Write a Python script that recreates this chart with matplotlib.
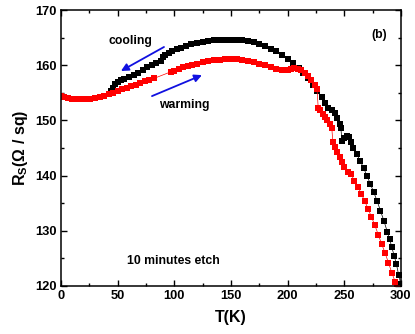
import matplotlib
matplotlib.use("Agg")
import matplotlib.pyplot as plt
from matplotlib.ticker import MultipleLocator

plt.rcParams['font.family'] = ['Liberation Sans', 'DejaVu Sans']
plt.rcParams['font.weight'] = 'bold'
plt.rcParams['mathtext.fontset'] = 'custom'
plt.rcParams['mathtext.bf'] = 'Liberation Sans:bold'
plt.rcParams['mathtext.rm'] = 'Liberation Sans:bold'
plt.rcParams['mathtext.default'] = 'bf'

# cooling (black)
T_cool = [44, 46, 48, 50, 53, 56, 60, 64, 68, 72, 76, 80, 84, 88, 90, 92, 95, 98,
          102, 106, 110, 115, 120, 125, 130, 135, 140, 145, 150, 155, 160, 165, 170,
          175, 180, 185, 190, 195, 200, 205, 210, 214, 218, 222, 226, 230, 233, 236,
          239, 242, 244, 246, 247, 248, 250, 252, 254, 256, 258, 261, 264, 267, 270,
          273, 276, 279, 282, 285, 288, 290, 292, 294, 296, 298, 300]
R_cool = [155.3, 155.8, 156.6, 157.0, 157.3, 157.5, 157.8, 158.2, 158.6, 159.1, 159.6,
          160.0, 160.4, 160.8, 161.4, 161.9, 162.2, 162.6, 162.9, 163.2, 163.5, 163.8,
          164.0, 164.2, 164.4, 164.5, 164.6, 164.6, 164.6, 164.6, 164.6, 164.4, 164.2,
          163.9, 163.5, 163.0, 162.5, 161.9, 161.2, 160.4, 159.5, 158.6, 157.6, 156.5,
          155.3, 154.2, 153.2, 152.3, 151.8, 151.4, 150.5, 149.3, 148.6, 146.3, 146.8,
          147.1, 146.9, 146.0, 145.0, 143.9, 142.7, 141.4, 140.0, 138.5, 137.0, 135.4,
          133.6, 131.8, 129.8, 128.5, 127.0, 125.5, 124.0, 122.0, 120.3]

# warming (red)
T_warm = [0, 3, 6, 10, 14, 18, 22, 26, 30, 34, 38, 42, 46, 50, 54, 58, 62, 66, 70, 74,
          78, 82, 97, 100, 104, 108, 112, 116, 120, 125, 130, 135, 140, 145, 150, 155,
          160, 165, 170, 175, 180, 185, 190, 195, 200, 203, 206, 209, 212, 215, 218,
          221, 224, 226, 227, 229, 231, 233, 235, 237, 239, 240, 242, 244, 246, 248,
          250, 253, 256, 259, 262, 265, 268, 271, 274, 277, 280, 283, 286, 289, 292,
          295, 297]
R_warm = [154.4, 154.2, 154.0, 153.9, 153.8, 153.8, 153.8, 153.9, 154.0, 154.2, 154.4,
          154.7, 155.0, 155.3, 155.6, 155.9, 156.2, 156.5, 156.8, 157.1, 157.4, 157.6,
          158.8, 159.0, 159.3, 159.6, 159.8, 160.1, 160.3, 160.6, 160.8, 160.9, 161.0,
          161.1, 161.1, 161.1, 161.0, 160.8, 160.6, 160.3, 160.0, 159.6, 159.3, 159.2,
          159.2, 159.3, 159.5, 159.4, 159.1, 158.6, 158.0, 157.4, 156.5, 155.6, 152.3,
          151.8, 151.2, 150.6, 150.0, 149.3, 148.6, 146.0, 145.2, 144.3, 143.3, 142.4,
          141.5, 140.7, 140.2, 139.1, 138.0, 136.7, 135.4, 134.0, 132.5, 131.0, 129.3,
          127.6, 126.0, 124.2, 122.4, 120.7, 119.7]

x_ticks = [0, 50, 100, 150, 200, 250, 300]
y_ticks = [120, 130, 140, 150, 160, 170]

fig = plt.figure(figsize=(4.15, 3.34), dpi=100)
ax = fig.add_axes([0.147, 0.144, 0.819, 0.826])

ax.plot(T_cool, R_cool, color='black', marker='s', markersize=5.0, lw=0.5,
        markeredgewidth=0, clip_on=True)
ax.plot(T_warm, R_warm, color='red', marker='s', markersize=5.0, lw=0.5,
        markeredgewidth=0, clip_on=True)

ax.set_xlim(0, 300)
ax.set_ylim(120, 170)
ax.set_xticks(x_ticks)
ax.set_yticks(y_ticks)
ax.xaxis.set_minor_locator(MultipleLocator(25))
ax.yaxis.set_minor_locator(MultipleLocator(5))
ax.tick_params(which='both', direction='in', top=True, right=True, width=1.0)
ax.tick_params(which='major', length=4, labelsize=9.3, pad=3)
ax.tick_params(which='minor', length=2.2)
for lab in ax.get_xticklabels() + ax.get_yticklabels():
    lab.set_fontweight('bold')
for s in ax.spines.values():
    s.set_linewidth(1.1)

ax.set_xlabel('T(K)', fontsize=11.5, fontweight='bold', labelpad=6)
ax.set_ylabel(r'R$_\mathbf{S}$(Ω / sq)', fontsize=11.5, fontweight='bold', labelpad=4)

ax.text(61, 164.3, 'cooling', fontsize=8.8, fontweight='bold', ha='center', va='center')
ax.text(109, 152.8, 'warming', fontsize=8.8, fontweight='bold', ha='center', va='center')
ax.text(99, 124.5, '10 minutes etch', fontsize=8.8, fontweight='bold', ha='center', va='center')
ax.text(281, 165.5, '(b)', fontsize=8.8, fontweight='bold', ha='center', va='center')

ax.annotate('', xy=(52.9, 158.95), xytext=(90.9, 163.3),
            arrowprops=dict(arrowstyle='-|>', color='#1010e0', lw=1.3,
                            mutation_scale=11, shrinkA=0, shrinkB=0))
ax.annotate('', xy=(124.4, 158.2), xytext=(80.3, 154.4),
            arrowprops=dict(arrowstyle='-|>', color='#1010e0', lw=1.3,
                            mutation_scale=11, shrinkA=0, shrinkB=0))

fig.savefig('out.png', dpi=100)
